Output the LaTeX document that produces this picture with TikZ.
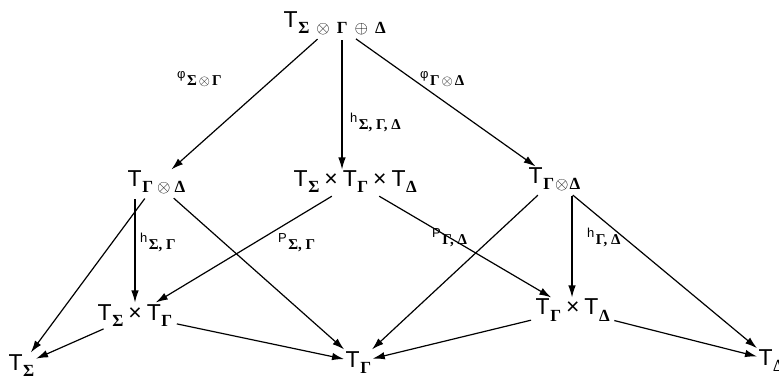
\documentclass[tikz,border=0pt]{standalone}
\usepackage{fontspec}
\setmainfont{Liberation Sans}
\newfontfamily\grk{Liberation Serif}
\usetikzlibrary{arrows.meta}
\newcommand\gsub[1]{\raisebox{-6pt}{\grk\bfseries\fontsize{17}{17}\selectfont #1}}
\newcommand\TT[1]{\fontsize{23}{23}\selectfont T\kern0.5pt\gsub{#1}}
\newcommand\tms{\hspace{5pt}{\fontsize{23}{23}\selectfont ×}\hspace{5pt}}
\newcommand\lbl[2]{\raisebox{7pt}{\fontsize{13}{13}\selectfont #1}\kern1.5pt{\grk\bfseries\fontsize{15}{15}\selectfont #2}}
\newcommand\ot{$\otimes$}
\newcommand\op{$\oplus$}
\begin{document}
\begin{tikzpicture}[x=1pt,y=-1pt,
  obj/.style={anchor=base west,inner sep=1.5pt},
  lab/.style={anchor=base west,inner sep=0pt},
  arr/.style={-{Latex[length=12pt,width=7.5pt]},line width=1.2pt,shorten <=3pt}]
\useasboundingbox (0,0) rectangle (779,379);
\node[obj] (top) at (282,28) {\TT{Σ\hspace{7pt}\ot\hspace{7pt}Γ\hspace{7pt}\op\hspace{7pt}Δ}};
\node[obj] (L) at (126,187) {\TT{Γ\hspace{4pt}\ot\hspace{4pt}Δ}};
\node[obj] (M) at (292,187) {\TT{Σ}\tms\TT{Γ}\tms\TT{Δ}};
\node[obj] (R) at (527,184) {\TT{Γ\hspace{1pt}\ot\hspace{1pt}Δ}};
\node[obj] (LL) at (96,320) {\TT{Σ}\tms\TT{Γ}};
\node[obj] (RR) at (534,315) {\TT{Γ}\tms\TT{Δ}};
\node[obj] (TS) at (7,370) {\TT{Σ}};
\node[obj] (TG) at (344,367) {\TT{Γ}};
\node[obj] (TD) at (757,365) {\TT{Δ}};
\node[lab] (l1) at (177,86) {\lbl{φ}{Σ\hspace{2pt}\ot\hspace{2pt}Γ}};
\node[lab] (l2) at (350,130) {\lbl{h}{Σ, Γ, Δ}};
\node[lab] (l3) at (420,86) {\lbl{φ}{Γ\hspace{2pt}\ot\hspace{2pt}Δ}};
\node[lab] (l4) at (140,250) {\lbl{h}{Σ, Γ}};
\node[lab] (l5) at (278,250) {\lbl{P}{Σ, Γ}};
\node[lab] (l6) at (432,245) {\lbl{P}{Γ, Δ}};
\node[lab] (l7) at (587,245) {\lbl{h}{Γ, Δ}};
\draw[arr] (top) -- (L);
\draw[arr] (top.south -| 342,0) -- (M.north -| 342,0);
\draw[arr] (top) -- (R);
\draw[arr] (L) -- (TS);
\draw[arr] (L.south -| 135,0) -- (LL.north -| 135,0);
\draw[arr] (L) -- (TG);
\draw[arr] (M) -- (LL);
\draw[arr] (M) -- (RR);
\draw[arr] (R) -- (TG);
\draw[arr] (R.south -| 572,0) -- (RR.north -| 572,0);
\draw[arr] (R) -- (TD);
\draw[arr] (LL) -- (TS);
\draw[arr] (LL) -- (TG);
\draw[arr] (RR) -- (TG);
\draw[arr] (RR) -- (TD);
\end{tikzpicture}
\end{document}
